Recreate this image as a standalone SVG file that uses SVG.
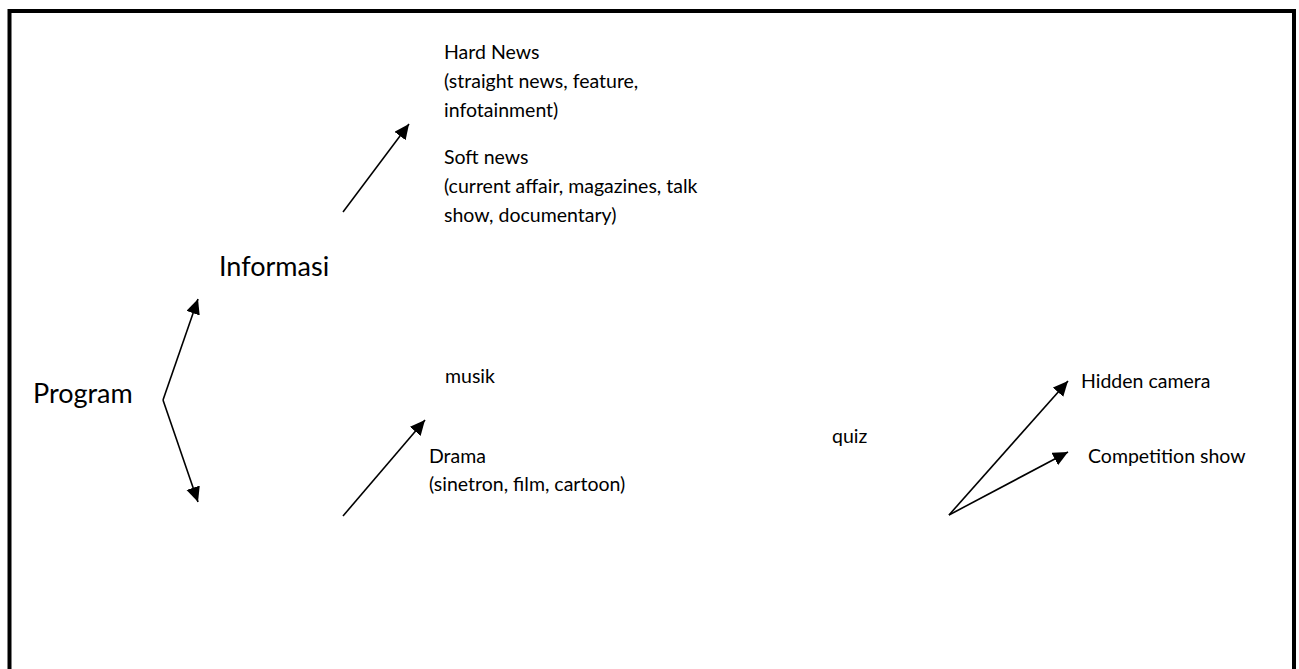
<svg xmlns="http://www.w3.org/2000/svg" width="1299" height="669" viewBox="0 0 1299 669">
  <style>
    .frame { fill: none; stroke: #000; stroke-width: 4; }
    .link { fill: none; stroke: #000; stroke-width: 1.6; }
    .big { font-family: Lato, "Liberation Sans", sans-serif; font-size: 27px; fill: #000; }
    .small { font-family: Lato, "Liberation Sans", sans-serif; font-size: 19.5px; fill: #000; }
  </style>
  <defs>
    <marker id="arrow" markerUnits="userSpaceOnUse" markerWidth="18" markerHeight="16" refX="15" refY="7" orient="auto">
      <path d="M0,0 L15,7 L0,14 Z" fill="#000"/>
    </marker>
  </defs>

  <rect width="1299" height="669" fill="#fff"/>

  <!-- page frame: left, top and right edges -->
  <path class="frame" d="M9.5,669 L9.5,11 L1294,11 L1294,669"/>

  <!-- connectors -->
  <g id="connectors">
    <path class="link" d="M163,400 L198,299" marker-end="url(#arrow)"/>
    <path class="link" d="M163,400 L198,502" marker-end="url(#arrow)"/>
    <path class="link" d="M343,212 L409,124" marker-end="url(#arrow)"/>
    <path class="link" d="M343,516 L425,420" marker-end="url(#arrow)"/>
    <path class="link" d="M949,515 L1068,381" marker-end="url(#arrow)"/>
    <path class="link" d="M949,515 L1068,452" marker-end="url(#arrow)"/>
  </g>

  <g id="program">
    <text class="big" x="33" y="403">Program</text>
  </g>
  <g id="informasi">
    <text class="big" x="219" y="276">Informasi</text>
  </g>
  <g id="hard-news">
    <text class="small" x="444" y="59">Hard News</text>
    <text class="small" x="444" y="88">(straight news, feature,</text>
    <text class="small" x="444" y="117">infotainment)</text>
  </g>
  <g id="soft-news">
    <text class="small" x="444" y="164">Soft news</text>
    <text class="small" x="444" y="193">(current affair, magazines, talk</text>
    <text class="small" x="444" y="222">show, documentary)</text>
  </g>
  <g id="musik">
    <text class="small" x="445" y="383">musik</text>
  </g>
  <g id="drama">
    <text class="small" x="429" y="463">Drama</text>
    <text class="small" x="429" y="491">(sinetron, film, cartoon)</text>
  </g>
  <g id="quiz">
    <text class="small" x="832" y="443">quiz</text>
  </g>
  <g id="hidden-camera">
    <text class="small" x="1081" y="388">Hidden camera</text>
  </g>
  <g id="competition-show">
    <text class="small" x="1088" y="463">Competition show</text>
  </g>
</svg>
